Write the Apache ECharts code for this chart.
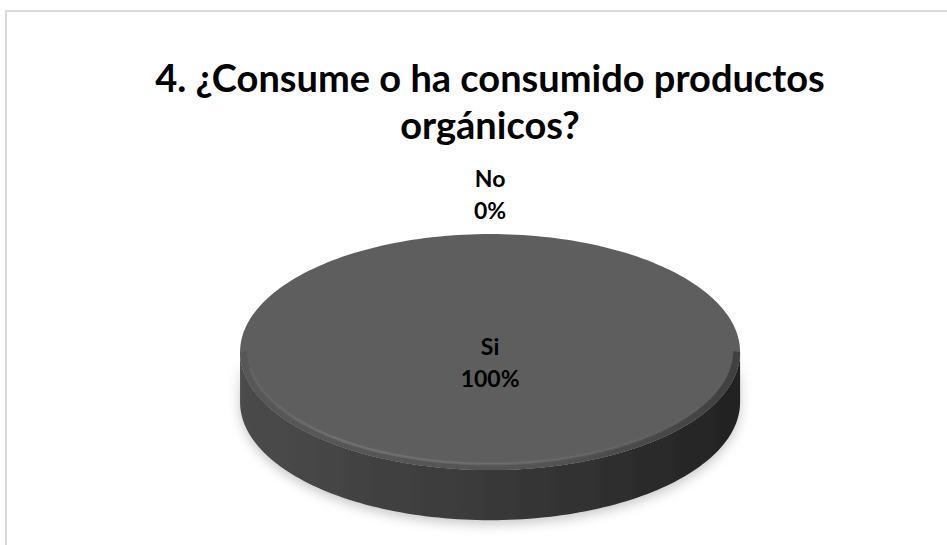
<!DOCTYPE html>
<html>
<head>
<meta charset="utf-8">
<script src="https://cdn.jsdelivr.net/npm/echarts@6/dist/echarts.min.js"></script>
<style>
  html, body { margin: 0; padding: 0; background: #ffffff; }
  #chart { width: 947px; height: 545px; }
</style>
</head>
<body>
<div id="chart"></div>
<script>
// Survey question 4: consumption of organic products
const titleLines = ['4. ¿Consume o ha consumido productos', 'orgánicos?'];
const categories = ['Si', 'No'];
const values = [100, 0];

const FONT = 'Lato, "Open Sans", "DejaVu Sans", sans-serif';
// 3D pie geometry, as fractions of the chart size
const PIE = { cx: 0.5175, cy: 0.646, rx: 0.264, ry: 0.2165, depth: 0.092 };

const total = values.reduce((a, b) => a + b, 0);
const TAU = Math.PI * 2;

function ellipsePoint(g, theta, scale, dy) {
  // angles measured clockwise from 12 o'clock
  return [g.cx + g.rx * scale * Math.sin(theta), g.cy - g.ry * scale * Math.cos(theta) + dy];
}

function arcPoints(g, a0, a1, scale, dy) {
  const n = Math.max(2, Math.ceil(Math.abs(a1 - a0) / TAU * 240));
  const pts = [];
  for (let k = 0; k <= n; k++) pts.push(ellipsePoint(g, a0 + (a1 - a0) * k / n, scale, dy));
  return pts;
}

function renderSlice(params, api) {
  const i = params.dataIndex;
  const W = api.getWidth(), H = api.getHeight();
  const g = { cx: PIE.cx * W, cy: PIE.cy * H, rx: PIE.rx * W, ry: PIE.ry * H };
  const depth = PIE.depth * H;
  const v = api.value(0);
  let before = 0;
  for (let k = 0; k < i; k++) before += values[k];
  const a0 = TAU * before / total;
  const a1 = a0 + TAU * v / total;
  const share = v / total;
  const full = share >= 0.9999;
  const children = [];

  if (v > 0) {
    // visible front wall (lower half of the ellipse)
    const s = Math.max(a0, Math.PI / 2), e = Math.min(a1, Math.PI * 1.5);
    if (e > s) {
      const topArc = arcPoints(g, s, e, 1, 0);
      const botArc = arcPoints(g, e, s, 1, depth);
      children.push({
        type: 'polygon',
        shape: { points: topArc.concat(botArc) },
        style: {
          fill: new echarts.graphic.LinearGradient(0, 0, 1, 0, [
            { offset: 0, color: '#4b4b4b' },
            { offset: 0.45, color: '#3b3b3b' },
            { offset: 0.8, color: '#2c2c2c' },
            { offset: 1, color: '#222222' }
          ]),
          shadowBlur: 12,
          shadowColor: 'rgba(0,0,0,0.22)',
          shadowOffsetY: 4
        }
      });
    }
    // top face
    const face = full ? arcPoints(g, 0, TAU, 1, 0)
                      : [[g.cx, g.cy]].concat(arcPoints(g, a0, a1, 1, 0));
    children.push({
      type: 'polygon',
      shape: { points: face },
      style: { fill: '#5e5e5e' }
    });
    if (full) {
      // bevelled rim along the front of the top face
      const inner = { cx: g.cx, cy: g.cy - 1, rx: g.rx - 7, ry: g.ry - 5 };
      const rimOuter = arcPoints(g, Math.PI / 2, Math.PI * 1.5, 1, 0);
      const rimInner = arcPoints(inner, Math.PI * 1.5, Math.PI / 2, 1, 0);
      children.push({
        type: 'polygon',
        shape: { points: rimOuter.concat(rimInner) },
        style: {
          fill: new echarts.graphic.LinearGradient(0, 0, 1, 0, [
            { offset: 0, color: '#575757' },
            { offset: 0.6, color: '#535353' },
            { offset: 1, color: '#404040' }
          ])
        }
      });
      children.push({
        type: 'polyline',
        shape: { points: arcPoints(inner, Math.PI * 1.45, Math.PI * 0.6, 1, 0) },
        style: {
          fill: null,
          lineWidth: 2.5,
          opacity: 0.8,
          shadowBlur: 3,
          shadowColor: 'rgba(255,255,255,0.25)',
          stroke: new echarts.graphic.LinearGradient(0, 0, 1, 0, [
            { offset: 0, color: 'rgba(255,255,255,0.05)' },
            { offset: 0.2, color: 'rgba(255,255,255,0.14)' },
            { offset: 0.6, color: 'rgba(255,255,255,0.10)' },
            { offset: 1, color: 'rgba(255,255,255,0)' }
          ])
        }
      });
    }
  }

  // data label: category and percentage
  const pct = Math.round(share * 100) + '%';
  let lx, ly;
  if (share > 0.5) {
    lx = g.cx; ly = g.cy + 10;
  } else {
    const m = (a0 + a1) / 2;
    const p = ellipsePoint({ cx: g.cx, cy: g.cy, rx: g.rx + 40, ry: g.ry + 40 }, m, 1, 0);
    lx = p[0]; ly = p[1];
  }
  children.push({
    type: 'text',
    z2: 10,
    style: {
      text: categories[i] + '\n' + pct,
      x: lx, y: ly,
      align: 'center',
      verticalAlign: 'middle',
      fontFamily: FONT,
      fontWeight: 'bold',
      fontSize: 23,
      lineHeight: 32,
      fill: '#000000'
    }
  });

  return { type: 'group', children: children };
}

const chart = echarts.init(document.getElementById('chart'), null, { renderer: 'svg' });
chart.setOption({
  backgroundColor: '#ffffff',
  animation: false,
  title: {
    text: titleLines.join('\n'),
    left: 490,
    top: 53,
    padding: 0,
    textAlign: 'center',
    textStyle: {
      fontFamily: FONT,
      fontWeight: 'bold',
      fontSize: 38,
      lineHeight: 47,
      color: '#000000'
    }
  },
  graphic: [{
    type: 'rect',
    silent: true,
    shape: { x: 6, y: 11, width: 980, height: 580 },
    style: { fill: 'none', stroke: '#d9d9d9', lineWidth: 2 }
  }],
  series: [{
    type: 'custom',
    coordinateSystem: 'none',
    renderItem: renderSlice,
    data: values.map((v, idx) => ({ name: categories[idx], value: [v] }))
  }]
});
</script>
</body>
</html>
